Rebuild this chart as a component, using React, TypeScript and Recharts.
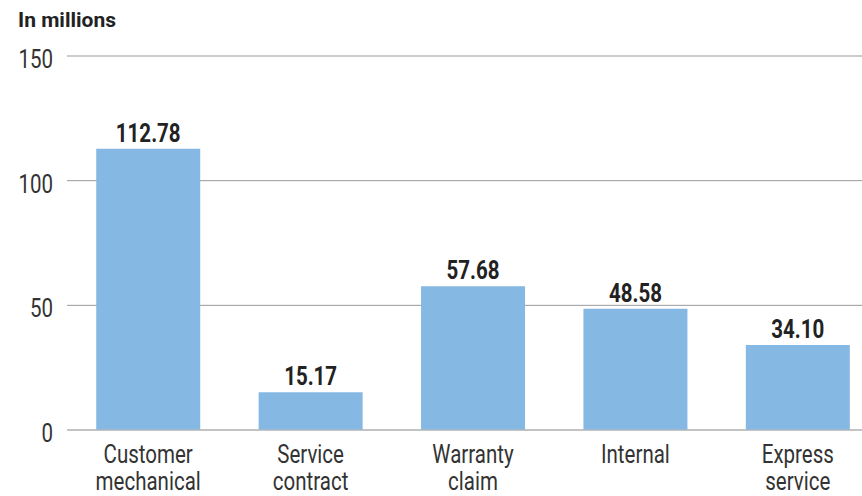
import { BarChart, Bar, XAxis, YAxis, CartesianGrid, LabelList } from "recharts";

const categories = [
  "Customer mechanical",
  "Service contract",
  "Warranty claim",
  "Internal",
  "Express service",
];
const values = [112.78, 15.17, 57.68, 48.58, 34.1];
const yTicks = [0, 50, 100, 150];

const data = categories.map((name, i) => ({ name, value: values[i] }));

const FONT = "Roboto, 'Noto Sans', sans-serif";
const SQUEEZE = 0.82;

// no condensed face installed, so narrow Roboto by hand
function NarrowText({ x, y, anchor, size, weight, fill, children }: any) {
  return (
    <text
      transform={`translate(${x},${y}) scale(${SQUEEZE},1)`}
      textAnchor={anchor}
      fontSize={size}
      fontWeight={weight}
      fill={fill}
      fontFamily={FONT}
    >
      {children}
    </text>
  );
}

function CategoryTick({ x, y, payload }: any) {
  const words = String(payload.value).split(" ");
  return (
    <g>
      {words.map((w, i) => (
        <NarrowText key={i} x={x} y={y + 25 + i * 27} anchor="middle" size={25} weight={400} fill="#333">
          {w}
        </NarrowText>
      ))}
    </g>
  );
}

function ValueTick({ x, y, payload }: any) {
  return (
    <NarrowText x={x} y={y + 12} anchor="end" size={25} weight={400} fill="#333">
      {payload.value}
    </NarrowText>
  );
}

function BarValue({ x, y, width, value }: any) {
  return (
    <NarrowText x={x + width / 2} y={y - 7} anchor="middle" size={25} weight={700} fill="#222">
      {Number(value).toFixed(2)}
    </NarrowText>
  );
}

export default function App() {
  return (
    <div style={{ position: "absolute", left: 0, top: 0, width: 862, height: 496, background: "#fff", overflow: "hidden" }}>
      <div
        style={{
          position: "absolute",
          left: 18,
          top: 8,
          fontFamily: FONT,
          fontWeight: 700,
          fontSize: 21,
          color: "#222",
        }}
      >
        In millions
      </div>
      <BarChart
        width={862}
        height={496}
        data={data}
        margin={{ top: 56, right: -17, bottom: 0, left: 0 }}
        barCategoryGap="18%"
      >
        <CartesianGrid vertical={false} stroke="#999" />
        <XAxis
          dataKey="name"
          height={66}
          tickLine={false}
          axisLine={{ stroke: "#bbb" }}
          tick={<CategoryTick />}
          interval={0}
        />
        <YAxis
          width={67}
          domain={[0, 150]}
          ticks={yTicks}
          tickLine={false}
          axisLine={false}
          tickSize={0}
          tickMargin={14}
          tick={<ValueTick />}
        />
        <Bar dataKey="value" fill="#85b8e2" isAnimationActive={false}>
          <LabelList dataKey="value" content={<BarValue />} />
        </Bar>
      </BarChart>
    </div>
  );
}
